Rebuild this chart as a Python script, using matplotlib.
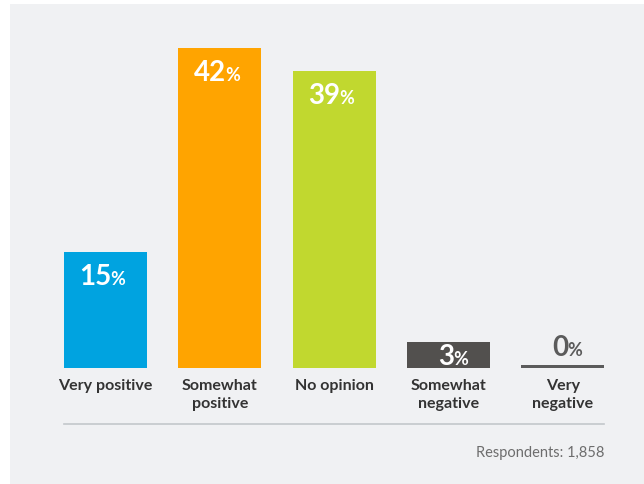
import matplotlib.pyplot as plt
from matplotlib.patches import Rectangle

categories = ["Very positive", "Somewhat\npositive", "No opinion", "Somewhat\nnegative", "Very\nnegative"]
values = [15, 42, 39, 3, 0]
colors = ["#00A3E0", "#FFA400", "#C1D82F", "#52504E", "#5B5B5B"]
respondents = "Respondents: 1,858"

plt.rcParams['font.family'] = ['Lato', 'DejaVu Sans']

bg = "#F0F1F3"
fig = plt.figure(figsize=(6.44, 4.85), dpi=100, facecolor="white")
fig.patches.append(Rectangle((10 / 644, 0), 1, 480 / 485, transform=fig.transFigure,
                             facecolor=bg, edgecolor="none", zorder=-1))

ax = fig.add_axes([64 / 644, (485 - 369) / 485, 540 / 644, 324 / 485])
ax.set_facecolor("none")
base = -0.45
xs = list(range(len(values)))
ax.bar(xs, [v - base for v in values], bottom=base, width=0.726, color=colors)
ax.set_xlim(-0.363, 4.361)
ax.set_ylim(base, 42.52)
ax.axis("off")

px = 72 / 100  # points per pixel
for i, v in enumerate(values):
    if v >= 10:
        xy, dy, col = (i, v), -32, "white"
    elif v > 0:
        xy, dy, col = (i, base), 4, "white"
    else:
        xy, dy, col = (i, v), 10, "#5B5B5B"
    ax.annotate(str(v), xy=xy, xytext=(6 * px, dy * px), textcoords="offset points",
                ha="right", va="baseline", fontsize=20, fontweight="bold", color=col)
    ax.annotate("%", xy=xy, xytext=(5 * px, dy * px), textcoords="offset points",
                ha="left", va="baseline", fontsize=13, fontweight="bold", color=col)
    ax.annotate(categories[i], xy=(i, 0), xycoords=("data", "axes fraction"),
                xytext=(0, -10 * px), textcoords="offset points", ha="center", va="top",
                fontsize=11.5, fontweight="bold", color="#333333", linespacing=1.35)

ax.plot([0, 1], [-0.1728, -0.1728], transform=ax.transAxes, clip_on=False,
        color="#C3C7CB", linewidth=1.2)
ax.text(1, -0.2716, respondents, transform=ax.transAxes, ha="right", va="baseline",
        fontsize=10.5, color="#6D6D6D")

fig.savefig("out.png", dpi=100, facecolor="white")
